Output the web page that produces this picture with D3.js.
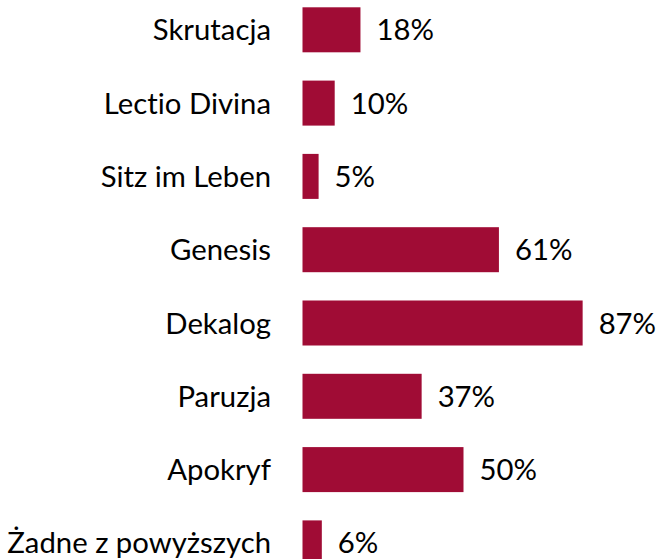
<!DOCTYPE html>
<html>
<head>
<meta charset="utf-8">
<script src="https://cdn.jsdelivr.net/npm/d3@7"></script>
<style>
  body { margin: 0; background: #fff; }
  text { font-family: Lato, "Liberation Sans", Arial, sans-serif; fill: #000;
         font-variant-ligatures: none; }
</style>
</head>
<body>
<svg id="chart" width="659" height="559"></svg>
<script>
// --- dane ---
const categories = ["Skrutacja", "Lectio Divina", "Sitz im Leben", "Genesis",
                    "Dekalog", "Paruzja", "Apokryf", "Żadne z powyższych"];
const values = [18, 10, 5, 61, 87, 37, 50, 6];

const data = categories.map((c, i) => ({ name: c, value: values[i] }));

const svg = d3.select("#chart");

const left = 302.5;

// skala X: 1% ~ 3.22px
const x = d3.scaleLinear()
  .domain([0, 100])
  .range([left, left + 322]);

// skala Y: wiersze co ~73px
const y = d3.scaleBand()
  .domain(categories)
  .range([-6.85, 579.55])
  .paddingInner(0.386)
  .paddingOuter(0.193);

// słupki
svg.selectAll("rect.bar")
  .data(data)
  .enter().append("rect")
    .attr("class", "bar")
    .attr("x", x(0))
    .attr("y", d => y(d.name))
    .attr("width", d => x(d.value) - x(0))
    .attr("height", y.bandwidth())
    .attr("fill", "#A00C35");

// etykiety kategorii
svg.selectAll("text.cat")
  .data(data)
  .enter().append("text")
    .attr("class", "cat")
    .attr("x", 271)
    .attr("y", d => y(d.name) + y.bandwidth() / 2)
    .attr("dy", "0.36em")
    .attr("text-anchor", "end")
    .style("font-size", "29.3px")
    .text(d => d.name);

// etykiety wartości
svg.selectAll("text.value")
  .data(data)
  .enter().append("text")
    .attr("class", "value")
    .attr("x", d => x(d.value) + 16)
    .attr("y", d => y(d.name) + y.bandwidth() / 2)
    .attr("dy", "0.36em")
    .style("font-size", "29.3px")
    .text(d => d.value + "%");
</script>
</body>
</html>
